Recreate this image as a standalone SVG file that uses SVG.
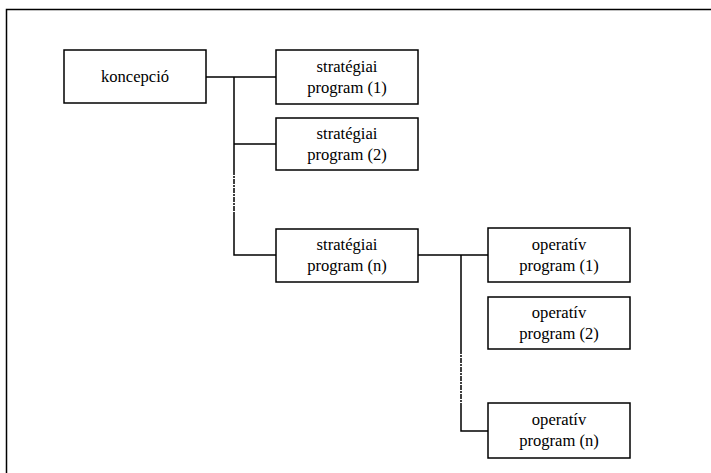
<svg xmlns="http://www.w3.org/2000/svg" width="711" height="473" viewBox="0 0 711 473">
<style>
.box{fill:#fff;stroke:#000;stroke-width:1.5}
.t{font-family:"Liberation Serif","Times New Roman",serif;font-size:16.6px;text-anchor:middle;fill:#000}
.ln{stroke:#000;stroke-width:1.5;fill:none}
.dl{stroke:#000;stroke-width:1.5;fill:none;stroke-dasharray:5 1 2 1}
</style>
<rect width="711" height="473" fill="#fff"/>
<path d="M6.5 473 V9.5 H711" class="ln" id="frame"/>
<g id="connectors">
<path class="ln" d="M206 77 H276 M234 77 V170 M234 144 H276 M234 213 V255 H276"/>
<path class="dl" d="M234 170 V213"/>
<path class="ln" d="M418 255 H488 M461 255 V349 M461 403 V431 H488"/>
<path class="dl" d="M461 349 V403"/>
</g>
<g id="koncepcio"><rect class="box" x="64" y="50" width="142" height="53"/><text class="t" x="135" y="82">koncepció</text></g>
<g id="strat1"><rect class="box" x="276" y="50" width="142" height="54"/><text class="t" x="347" y="72">stratégiai</text><text class="t" x="347" y="93">program (1)</text></g>
<g id="strat2"><rect class="box" x="276" y="118" width="142" height="52"/><text class="t" x="347" y="139">stratégiai</text><text class="t" x="347" y="160">program (2)</text></g>
<g id="stratn"><rect class="box" x="276" y="229" width="142" height="53"/><text class="t" x="347" y="250">stratégiai</text><text class="t" x="347" y="271">program (n)</text></g>
<g id="op1"><rect class="box" x="488" y="228" width="142" height="54"/><text class="t" x="559" y="250">operatív</text><text class="t" x="559" y="271">program (1)</text></g>
<g id="op2"><rect class="box" x="488" y="297" width="142" height="52"/><text class="t" x="559" y="318">operatív</text><text class="t" x="559" y="339">program (2)</text></g>
<g id="opn"><rect class="box" x="488" y="403" width="142" height="55"/><text class="t" x="559" y="425">operatív</text><text class="t" x="559" y="446">program (n)</text></g>
</svg>
